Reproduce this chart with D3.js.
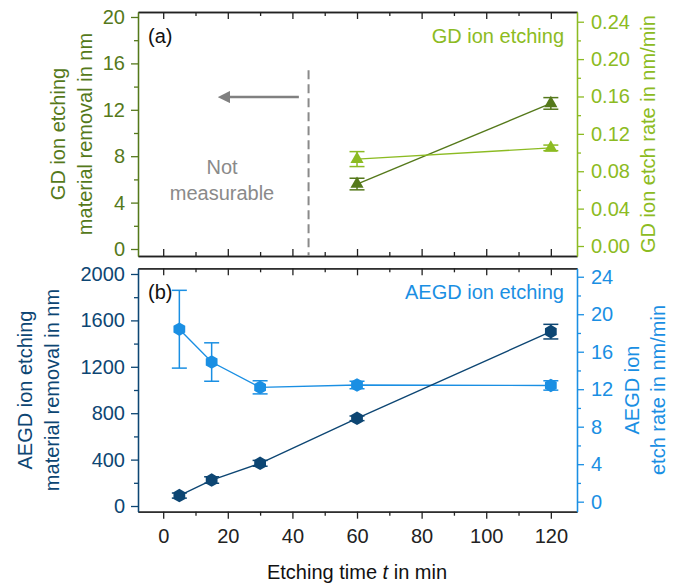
<!DOCTYPE html>
<html>
<head>
<meta charset="utf-8">
<script src="https://cdn.jsdelivr.net/npm/d3@7"></script>
<style>
  body { margin: 0; background: #fff; }
  svg { font-family: "Liberation Sans", Arial, sans-serif; }
</style>
</head>
<body>
<div id="chart"></div>
<script>
// etching time in min
const timeGD = [60, 120];
const gdRemoval = [5.6, 12.55];
const gdRemovalErr = [0.5, 0.5];
const gdRate = [0.093, 0.105];
const gdRateErr = [0.008, 0.003];

const timeAEGD = [5, 15, 30, 60, 120];
const aegdRemoval = [90, 224, 368, 756, 1503];
const aegdRemovalErr = [22, 28, 25, 20, 63];
const aegdRate = [18.4, 14.9, 12.2, 12.45, 12.4];
const aegdRateErr = [4.15, 2.05, 0.7, 0.4, 0.5];

const xMajor = [0, 20, 40, 60, 80, 100, 120];
const xMinor = [10, 30, 50, 70, 90, 110];

const darkGreen = "#55791b", lightGreen = "#8cbb22";
const darkBlue = "#0d4673", lightBlue = "#1a8fe3";

const width = 679, height = 583;
const left = 138, right = 577;

const svg = d3.select("#chart").append("svg")
    .attr("width", width)
    .attr("height", height);

const x = d3.scaleLinear().domain([-7.8, 128.1]).range([left, right]);

const panels = [
  {
    top: 12, bottom: 256, label: "(a)", title: "GD ion etching",
    yL: d3.scaleLinear().domain([-0.603, 20.43]).range([256, 12]),
    yR: d3.scaleLinear().domain([-0.0107, 0.2504]).range([256, 12]),
    lMajor: d3.range(0, 21, 4), lMinor: d3.range(2, 20, 4),
    rMajor: d3.range(0, 0.25, 0.04), rMinor: d3.range(0.02, 0.24, 0.04),
    rFmt: d3.format(".2f"),
    cL: darkGreen, cR: lightGreen, titleColor: lightGreen,
    lTitle: ["GD ion etching", "material removal in nm"], lTitleX: [58, 85],
    rTitle: ["GD ion etch rate in nm/min"], rTitleX: [648],
    titleY: 134, symbol: "triangle",
    series: [
      {t: timeGD, v: gdRemoval, e: gdRemovalErr, axis: "L", color: darkGreen},
      {t: timeGD, v: gdRate, e: gdRateErr, axis: "R", color: lightGreen}
    ]
  },
  {
    top: 268.3, bottom: 511.7, label: "(b)", title: "AEGD ion etching",
    yL: d3.scaleLinear().domain([-49, 2049]).range([511.7, 268.3]),
    yR: d3.scaleLinear().domain([-1.07, 24.9]).range([511.7, 268.3]),
    lMajor: d3.range(0, 2001, 400), lMinor: d3.range(200, 2000, 400),
    rMajor: d3.range(0, 25, 4), rMinor: d3.range(2, 24, 4),
    rFmt: d3.format("d"),
    cL: darkBlue, cR: lightBlue, titleColor: lightBlue,
    lTitle: ["AEGD ion etching", "material removal in nm"], lTitleX: [25, 52],
    rTitle: ["AEGD ion", "etch rate in nm/min"], rTitleX: [632, 658],
    titleY: 390, symbol: "hexagon",
    series: [
      {t: timeAEGD, v: aegdRate, e: aegdRateErr, axis: "R", color: lightBlue},
      {t: timeAEGD, v: aegdRemoval, e: aegdRemovalErr, axis: "L", color: darkBlue}
    ]
  }
];

function hexagon(r) {
  const pts = d3.range(6).map(i => {
    const a = -Math.PI / 2 + i * Math.PI / 3;
    return [r * Math.cos(a), r * Math.sin(a)];
  });
  return "M" + pts.map(p => p.join(",")).join("L") + "Z";
}

function styleAxis(g, color) {
  g.selectAll("path.domain").attr("stroke", color).attr("stroke-width", 1.3);
  g.selectAll(".tick line").attr("stroke", color).attr("stroke-width", 1.3);
  g.selectAll(".tick text").attr("fill", color).style("font-size", "20px");
}

panels.forEach(function (p, pi) {
  const g = svg.append("g");
  const isLast = pi === panels.length - 1;

  // x axes at the top and bottom of each panel
  const xTop = g.append("g").attr("transform", `translate(0,${p.top})`)
      .call(d3.axisTop(x).tickValues(xMajor).tickSize(-7).tickSizeOuter(0).tickFormat(""));
  styleAxis(xTop, "#222");
  const xTopMinor = g.append("g").attr("transform", `translate(0,${p.top})`)
      .call(d3.axisTop(x).tickValues(xMinor).tickSize(-4).tickSizeOuter(0).tickFormat(""));
  styleAxis(xTopMinor, "#222");

  const tickDir = isLast ? 7 : -7;
  const xBot = g.append("g").attr("transform", `translate(0,${p.bottom})`)
      .call(d3.axisBottom(x).tickValues(xMajor).tickSize(tickDir).tickSizeOuter(0)
        .tickPadding(isLast ? 10 : 3).tickFormat(isLast ? d3.format("d") : ""));
  styleAxis(xBot, "#222");
  const xBotMinor = g.append("g").attr("transform", `translate(0,${p.bottom})`)
      .call(d3.axisBottom(x).tickValues(xMinor).tickSize(isLast ? 4 : -4).tickSizeOuter(0).tickFormat(""));
  styleAxis(xBotMinor, "#222");

  // y axes
  const yl = g.append("g").attr("transform", `translate(${left},0)`)
      .call(d3.axisLeft(p.yL).tickValues(p.lMajor).tickSize(7).tickPadding(6)
        .tickSizeOuter(0).tickFormat(d3.format("d")));
  styleAxis(yl, p.cL);
  const ylm = g.append("g").attr("transform", `translate(${left},0)`)
      .call(d3.axisLeft(p.yL).tickValues(p.lMinor).tickSize(4).tickSizeOuter(0).tickFormat(""));
  styleAxis(ylm, p.cL);
  const yr = g.append("g").attr("transform", `translate(${right},0)`)
      .call(d3.axisRight(p.yR).tickValues(p.rMajor).tickSize(7).tickPadding(7)
        .tickSizeOuter(0).tickFormat(p.rFmt));
  styleAxis(yr, p.cR);
  const yrm = g.append("g").attr("transform", `translate(${right},0)`)
      .call(d3.axisRight(p.yR).tickValues(p.rMinor).tickSize(4).tickSizeOuter(0).tickFormat(""));
  styleAxis(yrm, p.cR);

  // axis titles
  p.lTitle.forEach((t, i) => {
    g.append("text")
      .attr("transform", `translate(${p.lTitleX[i]},${p.titleY}) rotate(-90)`)
      .attr("dy", "0.35em").attr("text-anchor", "middle")
      .attr("fill", p.cL).style("font-size", "20px").text(t);
  });
  p.rTitle.forEach((t, i) => {
    g.append("text")
      .attr("transform", `translate(${p.rTitleX[i]},${p.titleY}) rotate(-90)`)
      .attr("dy", "0.35em").attr("text-anchor", "middle")
      .attr("fill", p.cR).style("font-size", "20px").text(t);
  });

  // panel label and series title
  g.append("text").attr("x", 148).attr("y", p.top + 24).attr("dy", "0.35em")
    .style("font-size", "20px").attr("fill", "#111").text(p.label);
  g.append("text").attr("x", 564).attr("y", p.top + 24).attr("dy", "0.35em")
    .attr("text-anchor", "end").style("font-size", "20px")
    .attr("fill", p.titleColor).text(p.title);

  // data
  p.series.forEach(s => {
    const y = s.axis === "L" ? p.yL : p.yR;
    const pts = s.t.map((t, i) => ({t: t, v: s.v[i], e: s.e[i]}));

    g.append("path").datum(pts)
      .attr("fill", "none").attr("stroke", s.color).attr("stroke-width", 1.4)
      .attr("d", d3.line().x(d => x(d.t)).y(d => y(d.v)));

    const eb = g.append("g").attr("stroke", s.color).attr("stroke-width", 1.5)
      .selectAll("g").data(pts).enter().append("g");
    eb.append("line")
      .attr("x1", d => x(d.t)).attr("x2", d => x(d.t))
      .attr("y1", d => y(d.v - d.e)).attr("y2", d => y(d.v + d.e));
    [-1, 1].forEach(sg => {
      eb.append("line")
        .attr("x1", d => x(d.t) - 7.5).attr("x2", d => x(d.t) + 7.5)
        .attr("y1", d => y(d.v + sg * d.e)).attr("y2", d => y(d.v + sg * d.e));
    });

    const markerPath = p.symbol === "triangle"
      ? d3.symbol().type(d3.symbolTriangle).size(75)()
      : hexagon(6.8);
    g.append("g").selectAll("path").data(pts).enter().append("path")
      .attr("d", markerPath)
      .attr("transform", d => `translate(${x(d.t)},${y(d.v)})`)
      .attr("fill", s.color);
  });

  if (pi === 0) {
    // not measurable region
    g.append("line")
      .attr("x1", x(45)).attr("x2", x(45))
      .attr("y1", p.yL(15.4)).attr("y2", p.bottom)
      .attr("stroke", "#8a8a8a").attr("stroke-width", 2)
      .attr("stroke-dasharray", "9,5");
    svg.append("defs").append("marker")
      .attr("id", "arrowhead").attr("viewBox", "0 0 10 10")
      .attr("refX", 2).attr("refY", 5)
      .attr("markerWidth", 5).attr("markerHeight", 5)
      .attr("orient", "auto")
      .append("path").attr("d", "M0,0L10,5L0,10Z").attr("fill", "#808080");
    g.append("line")
      .attr("x1", x(42)).attr("x2", x(20))
      .attr("y1", p.yL(13.1)).attr("y2", p.yL(13.1))
      .attr("stroke", "#808080").attr("stroke-width", 2.5)
      .attr("marker-end", "url(#arrowhead)");
    ["Not", "measurable"].forEach((t, i) => {
      g.append("text").attr("x", 222).attr("y", 167 + i * 26).attr("dy", "0.35em")
        .attr("text-anchor", "middle").style("font-size", "20px")
        .attr("fill", "#8a8a8a").text(t);
    });
  }
});

// x axis title
const xt = svg.append("text").attr("x", 357).attr("y", 572).attr("dy", "0.35em")
  .attr("text-anchor", "middle").style("font-size", "20px").attr("fill", "#111");
xt.append("tspan").text("Etching time ");
xt.append("tspan").style("font-style", "italic").text("t");
xt.append("tspan").text(" in min");
</script>
</body>
</html>
